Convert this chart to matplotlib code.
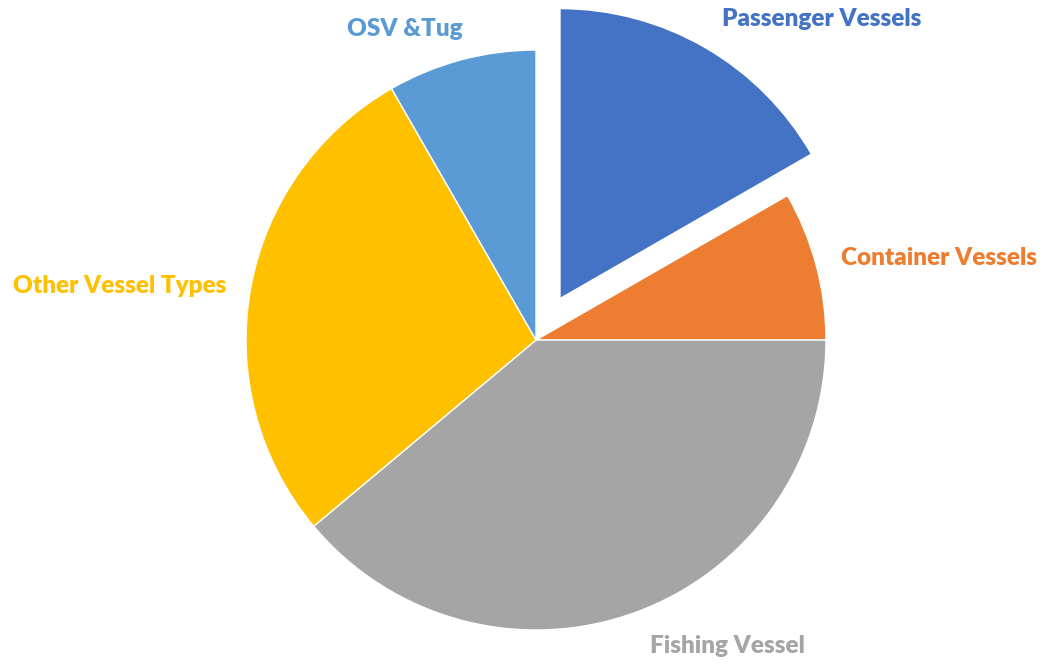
import matplotlib
matplotlib.use("Agg")
import matplotlib.pyplot as plt

categories = ["Passenger Vessels", "Container Vessels", "Fishing Vessel", "Other Vessel Types", "OSV &Tug"]
values = [16.7, 8.3, 38.9, 27.8, 8.3]
colors = ["#4472C4", "#ED7D31", "#A5A5A5", "#FFC000", "#5B9BD5"]
explode = [0.165, 0, 0, 0, 0]

W, H = 1043, 664
cx, cy, R = 536, 340, 290

fig = plt.figure(figsize=(W / 100, H / 100), dpi=100)
ax = fig.add_axes([0, 0, 1, 1])
ax.pie(values, colors=colors, explode=explode, startangle=90, counterclock=False,
       radius=1, wedgeprops=dict(edgecolor="white", linewidth=1))
ax.set_aspect("auto")
ax.set_xlim(-cx / R, (W - cx) / R)
ax.set_ylim(-(H - cy) / R, cy / R)
ax.axis("off")

def px(x, y):
    return (x - cx) / R, (cy - y) / R

label_pos = [(822, 19), (939, 258), (727, 646), (120, 286), (405, 29)]
for name, col, (x, y) in zip(categories, colors, label_pos):
    tx, ty = px(x, y)
    ax.text(tx, ty, name, color=col, fontsize=17.5, fontweight="heavy",
            family=["Lato", "DejaVu Sans"], ha="center", va="center")

fig.savefig("out.png", dpi=100)
